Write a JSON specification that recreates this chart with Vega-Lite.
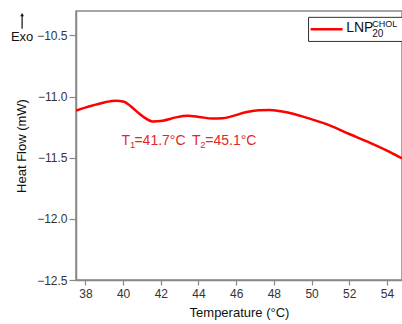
{
  "$schema": "https://vega.github.io/schema/vega-lite/v6.json",
  "width": 326,
  "height": 269,
  "autosize": "none",
  "padding": {"left": 76, "top": 11, "right": 0, "bottom": 44},
  "background": "white",
  "config": {
    "view": {"stroke": "#888888", "strokeWidth": 1.5},
    "font": "Liberation Sans",
    "axis": {
      "domainColor": "#888888",
      "domainWidth": 1.5,
      "tickColor": "#888888",
      "tickWidth": 1.2,
      "labelColor": "#333333",
      "labelFontSize": 12,
      "titleFontSize": 13,
      "titleFontWeight": "normal",
      "titleColor": "#111111",
      "grid": false
    }
  },
  "datasets": {
    "curve": [
      {"T": 37.5, "hf": -11.115},
      {"T": 38.03, "hf": -11.088},
      {"T": 38.56, "hf": -11.066},
      {"T": 39.09, "hf": -11.044},
      {"T": 39.6, "hf": -11.033},
      {"T": 40.05, "hf": -11.042},
      {"T": 40.4, "hf": -11.078},
      {"T": 40.85, "hf": -11.138},
      {"T": 41.2, "hf": -11.178},
      {"T": 41.56, "hf": -11.203},
      {"T": 42.1, "hf": -11.197},
      {"T": 42.8, "hf": -11.17},
      {"T": 43.42, "hf": -11.157},
      {"T": 44.03, "hf": -11.166},
      {"T": 44.74, "hf": -11.18},
      {"T": 45.27, "hf": -11.178},
      {"T": 45.8, "hf": -11.16},
      {"T": 46.5, "hf": -11.128},
      {"T": 47.2, "hf": -11.112},
      {"T": 47.78, "hf": -11.109},
      {"T": 48.84, "hf": -11.134},
      {"T": 49.9, "hf": -11.18},
      {"T": 50.96, "hf": -11.235},
      {"T": 52.0, "hf": -11.306},
      {"T": 53.08, "hf": -11.376},
      {"T": 54.14, "hf": -11.452},
      {"T": 54.8, "hf": -11.505}
    ],
    "one": [{}]
  },
  "layer": [
    {
      "data": {"name": "curve"},
      "mark": {"type": "line", "color": "#ff0000", "strokeWidth": 2.5, "interpolate": "monotone", "clip": true},
      "encoding": {
        "x": {
          "field": "T", "type": "quantitative",
          "scale": {"domain": [37.5, 54.8], "nice": false, "zero": false},
          "axis": {
            "title": "Temperature (°C)",
            "values": [38, 39, 40, 41, 42, 43, 44, 45, 46, 47, 48, 49, 50, 51, 52, 53, 54],
            "labelExpr": "datum.value % 2 == 0 ? datum.label : ''",
            "tickSize": {"condition": {"test": "datum.value % 2 != 0", "value": 3}, "value": 5},
            "labelPadding": 3,
            "titlePadding": 7
          }
        },
        "y": {
          "field": "hf", "type": "quantitative",
          "scale": {"domain": [-12.5, -10.3], "nice": false, "zero": false},
          "axis": {
            "title": "Heat Flow (mW)",
            "values": [-12.5, -12.25, -12.0, -11.75, -11.5, -11.25, -11.0, -10.75, -10.5],
            "format": ".1f",
            "labelExpr": "(datum.value * 4) % 2 == 0 ? datum.label : ''",
            "tickSize": {"condition": {"test": "(datum.value * 4) % 2 != 0", "value": 4}, "value": 7},
            "labelPadding": 2,
            "titlePadding": 8
          }
        }
      }
    },
    {
      "data": {"name": "one"},
      "mark": {"type": "rect", "fill": "white", "stroke": "#333333", "strokeWidth": 1},
      "encoding": {
        "x": {"datum": 49.84}, "x2": {"datum": 54.9},
        "y": {"datum": -10.352}, "y2": {"datum": -10.549}
      }
    },
    {
      "data": {"name": "one"},
      "mark": {"type": "rule", "color": "#ff0000", "strokeWidth": 2.5},
      "encoding": {
        "x": {"datum": 49.95}, "x2": {"datum": 51.65},
        "y": {"datum": -10.45}
      }
    },
    {
      "data": {"name": "one"},
      "mark": {"type": "text", "align": "left", "baseline": "alphabetic", "fontSize": 14, "color": "#111111"},
      "encoding": {"x": {"datum": 51.84}, "y": {"datum": -10.475}, "text": {"value": "LNP"}}
    },
    {
      "data": {"name": "one"},
      "mark": {"type": "text", "align": "left", "baseline": "alphabetic", "fontSize": 9, "color": "#111111"},
      "encoding": {"x": {"datum": 53.22}, "y": {"datum": -10.432}, "text": {"value": "CHOL"}}
    },
    {
      "data": {"name": "one"},
      "mark": {"type": "text", "align": "left", "baseline": "alphabetic", "fontSize": 10, "color": "#111111"},
      "encoding": {"x": {"datum": 53.22}, "y": {"datum": -10.514}, "text": {"value": "20"}}
    },
    {
      "data": {"name": "one"},
      "mark": {"type": "text", "align": "left", "baseline": "alphabetic", "fontSize": 14, "color": "#e02828"},
      "encoding": {"x": {"datum": 39.92}, "y": {"datum": -11.399}, "text": {"value": "T"}}
    },
    {
      "data": {"name": "one"},
      "mark": {"type": "text", "align": "left", "baseline": "alphabetic", "fontSize": 9.5, "color": "#e02828"},
      "encoding": {"x": {"datum": 40.36}, "y": {"datum": -11.42}, "text": {"value": "1"}}
    },
    {
      "data": {"name": "one"},
      "mark": {"type": "text", "align": "left", "baseline": "alphabetic", "fontSize": 14, "color": "#e02828"},
      "encoding": {"x": {"datum": 40.6}, "y": {"datum": -11.399}, "text": {"value": "=41.7°C"}}
    },
    {
      "data": {"name": "one"},
      "mark": {"type": "text", "align": "left", "baseline": "alphabetic", "fontSize": 14, "color": "#e02828"},
      "encoding": {"x": {"datum": 43.66}, "y": {"datum": -11.399}, "text": {"value": "T"}}
    },
    {
      "data": {"name": "one"},
      "mark": {"type": "text", "align": "left", "baseline": "alphabetic", "fontSize": 9.5, "color": "#e02828"},
      "encoding": {"x": {"datum": 44.1}, "y": {"datum": -11.42}, "text": {"value": "2"}}
    },
    {
      "data": {"name": "one"},
      "mark": {"type": "text", "align": "left", "baseline": "alphabetic", "fontSize": 14, "color": "#e02828"},
      "encoding": {"x": {"datum": 44.36}, "y": {"datum": -11.399}, "text": {"value": "=45.1°C"}}
    },
    {
      "data": {"name": "one"},
      "mark": {"type": "text", "align": "center", "baseline": "alphabetic", "fontSize": 13, "color": "#111111"},
      "encoding": {"x": {"datum": 34.64}, "y": {"datum": -10.549}, "text": {"value": "Exo"}}
    },
    {
      "data": {"name": "one"},
      "mark": {"type": "rule", "color": "#111111", "strokeWidth": 1.2},
      "encoding": {"x": {"datum": 34.64}, "y": {"datum": -10.34}, "y2": {"datum": -10.445}}
    },
    {
      "data": {"name": "one"},
      "mark": {"type": "point", "shape": "triangle-up", "filled": true, "color": "#111111", "size": 14, "opacity": 1},
      "encoding": {"x": {"datum": 34.64}, "y": {"datum": -10.33}}
    }
  ]
}
